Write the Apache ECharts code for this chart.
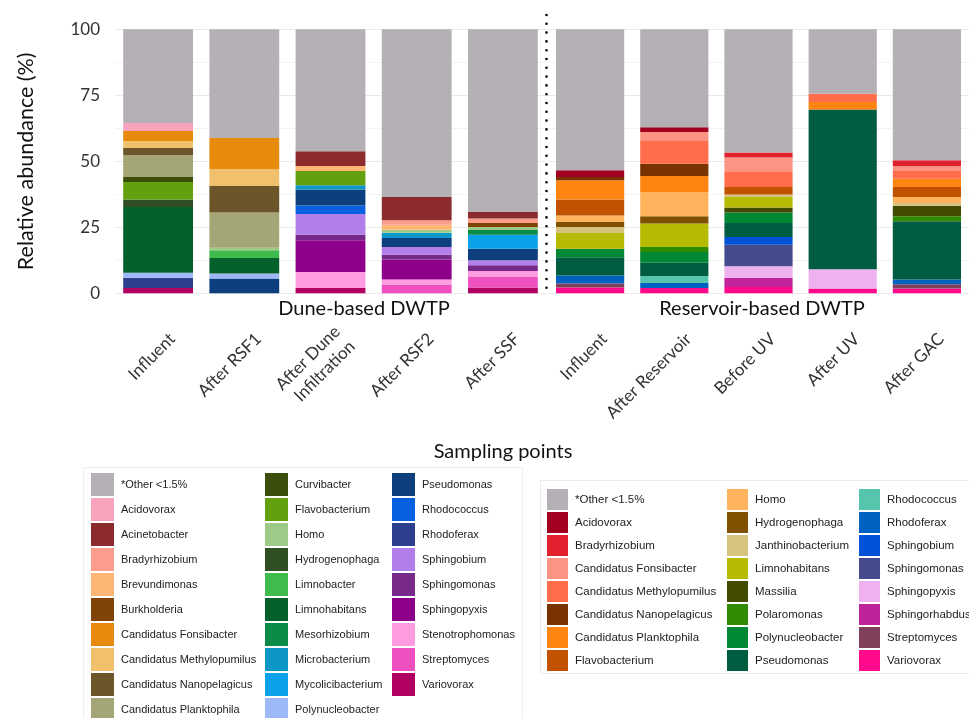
<!DOCTYPE html>
<html>
<head>
<meta charset="utf-8">
<script src="https://cdn.jsdelivr.net/npm/echarts@6/dist/echarts.min.js"></script>
<style>
  html, body { margin: 0; padding: 0; background: #ffffff; }
  #chart { width: 969px; height: 718px; }
</style>
</head>
<body>
<div id="chart"></div>
<script>
// Sampling points of the two treatment trains
const duneSites = ['Influent', 'After RSF1', 'After Dune\nInfiltration', 'After RSF2', 'After SSF'];
const reservoirSites = ['Influent', 'After Reservoir', 'Before UV', 'After UV', 'After GAC'];

// Genera in legend order (first entry sits on top of each stack)
const duneGenera = [
  '*Other <1.5%', 'Acidovorax', 'Acinetobacter', 'Bradyrhizobium', 'Brevundimonas', 'Burkholderia',
  'Candidatus Fonsibacter', 'Candidatus Methylopumilus', 'Candidatus Nanopelagicus', 'Candidatus Planktophila',
  'Curvibacter', 'Flavobacterium', 'Homo', 'Hydrogenophaga', 'Limnobacter', 'Limnohabitans',
  'Mesorhizobium', 'Microbacterium', 'Mycolicibacterium', 'Polynucleobacter',
  'Pseudomonas', 'Rhodococcus', 'Rhodoferax', 'Sphingobium', 'Sphingomonas', 'Sphingopyxis',
  'Stenotrophomonas', 'Streptomyces', 'Variovorax'
];
const reservoirGenera = [
  '*Other <1.5%', 'Acidovorax', 'Bradyrhizobium', 'Candidatus Fonsibacter', 'Candidatus Methylopumilus',
  'Candidatus Nanopelagicus', 'Candidatus Planktophila', 'Flavobacterium',
  'Homo', 'Hydrogenophaga', 'Janthinobacterium', 'Limnohabitans', 'Massilia', 'Polaromonas',
  'Polynucleobacter', 'Pseudomonas',
  'Rhodococcus', 'Rhodoferax', 'Sphingobium', 'Sphingomonas', 'Sphingopyxis', 'Sphingorhabdus',
  'Streptomyces', 'Variovorax'
];

// Relative abundance (%) per sampling point, one value per genus in the order above
const duneInfluent     = [35.5, 3.0, 0, 0, 0, 0, 3.8, 2.7, 2.7, 8.2, 1.9, 6.7, 0, 2.8, 0, 24.9, 0, 0, 0, 1.9, 0, 0, 3.9, 0, 0, 0, 0, 0, 2.0];
const duneAfterRSF1    = [41.2, 0, 0, 0, 0, 0, 11.8, 6.4, 10.0, 13.3, 0, 0, 1.0, 0, 2.9, 5.9, 0, 0, 0, 1.9, 5.6, 0, 0, 0, 0, 0, 0, 0, 0];
const duneAfterDune    = [46.2, 0, 5.6, 0, 1.9, 0, 0, 0, 0, 0, 0, 5.4, 0, 0, 0, 0, 0, 1.6, 0, 0, 6.0, 3.3, 0, 7.8, 2.1, 12.0, 6.1, 0, 2.0];
const duneAfterRSF2    = [63.5, 0, 8.8, 1.7, 1.9, 0, 0, 0, 0, 0, 0, 0, 1.2, 0, 0, 0, 0, 2.0, 0, 0, 3.4, 0, 0, 2.9, 1.8, 7.6, 1.9, 3.3, 0];
const duneAfterSSF     = [69.2, 0, 2.5, 1.7, 0, 1.5, 0, 0, 0, 0, 0, 0, 1.1, 0, 0, 0, 1.8, 0, 5.3, 0, 4.4, 0, 0, 1.9, 2.2, 0, 2.2, 4.0, 2.2];

const resInfluent       = [53.4, 2.5, 0, 0, 0, 1.3, 7.3, 6.0, 2.5, 1.9, 2.3, 5.9, 0, 0, 3.2, 7.0, 0, 3.0, 0, 0, 0, 0, 1.5, 2.2];
const resAfterReservoir = [37.1, 1.8, 0, 3.1, 8.9, 4.7, 6.0, 0, 9.2, 2.8, 0, 8.9, 0, 1.9, 4.0, 5.0, 2.7, 1.9, 0, 0, 0, 0, 0, 2.0];
const resBeforeUV       = [46.7, 0, 1.9, 5.2, 5.9, 0, 0, 2.9, 0, 0, 0.9, 4.0, 1.9, 0, 4.0, 5.3, 0, 0, 2.9, 8.2, 4.3, 3.5, 0, 2.4];
const resAfterUV        = [24.4, 0, 0, 0, 3.1, 0, 2.9, 0, 0, 0, 0, 0, 0, 0, 0, 60.5, 0, 0, 0, 0, 7.3, 0, 0, 1.8];
const resAfterGAC       = [49.6, 0, 2.3, 1.8, 2.9, 0, 3.1, 3.8, 2.3, 0, 1.0, 0, 4.0, 1.9, 0, 22.1, 0, 1.8, 0, 0, 0, 0, 1.6, 1.8];

// Y-axis ticks
const yTicks = [0, 25, 50, 75, 100];

// Palettes, aligned with the genus lists
const duneColors = [
  '#b5b0b5', '#f7a3bb', '#8c2b2d', '#fb9c8c', '#fdb673', '#7f4306',
  '#e88a0b', '#f1c06c', '#6b5529', '#a5a676',
  '#3b4e0c', '#62a00f', '#9fc986', '#2f4e23', '#3fbb4c', '#04612b',
  '#0b8b48', '#0e97c6', '#0ba2ea', '#9db8f6',
  '#0d3f7e', '#0760e0', '#2f3f90', '#b27ee9', '#782a8b', '#8d008a',
  '#ff9be0', '#ee50c0', '#b00062'
];
const reservoirColors = [
  '#b5b0b5', '#a10021', '#e2212f', '#fc9484', '#ff6d4a',
  '#7a3200', '#ff8512', '#c05200',
  '#ffb35c', '#7f5100', '#d6c47e', '#b6ba00', '#434b00', '#2f8b02',
  '#008834', '#005d41',
  '#57c5ad', '#0062c0', '#0052d6', '#454b8d', '#f0b1f1', '#c0229b',
  '#814059', '#ff0a8d'
];

const duneSamples = [duneInfluent, duneAfterRSF1, duneAfterDune, duneAfterRSF2, duneAfterSSF];
const resSamples = [resInfluent, resAfterReservoir, resBeforeUV, resAfterUV, resAfterGAC];

// Reservoir series carry a tag so both panels can list the same genus with its own colour
const RES_TAG = ' (R)';

function stackSeries(genera, colors, samples, axisIndex, stackId, tag) {
  const list = [];
  for (let g = genera.length - 1; g >= 0; g--) {
    list.push({
      type: 'bar',
      name: genera[g] + tag,
      stack: stackId,
      xAxisIndex: axisIndex,
      yAxisIndex: axisIndex,
      barCategoryGap: '19%',
      itemStyle: { color: colors[g] },
      emphasis: { disabled: true },
      data: samples.map(s => s[g])
    });
  }
  return list;
}

const tickFont = 'Lato, "Open Sans", sans-serif';
const legendFont = '"Liberation Sans", Arial, sans-serif';

function legendColumn(names, left, top, box, gap, fontSize) {
  return {
    orient: 'vertical',
    left: left,
    top: top,
    height: 300,
    padding: 0,
    itemWidth: box,
    itemHeight: box,
    itemGap: gap,
    icon: 'rect',
    selectedMode: false,
    data: names,
    formatter: n => n.replace(RES_TAG, ''),
    textStyle: { fontFamily: legendFont, fontSize: fontSize, color: '#222', padding: [0, 0, 0, 2] }
  };
}

const resNames = reservoirGenera.map(n => n + RES_TAG);

const xLabel = {
  rotate: 45,
  interval: 0,
  margin: 57,
  padding: [0, -20, 0, 0],
  fontFamily: tickFont,
  fontSize: 17,
  lineHeight: 21,
  color: '#333'
};

const gridLine = { lineStyle: { color: '#e9e9e9', width: 1 } };
const minorLine = { show: true, lineStyle: { color: '#f3f3f3', width: 1 } };
const captionFont = '20px Lato, "Open Sans", sans-serif';

const option = {
  backgroundColor: '#ffffff',
  animation: false,
  grid: [
    { left: 115, top: 29.3, width: 431, height: 264 },
    { left: 548, top: 29.3, width: 430.5, height: 264 }
  ],
  xAxis: [
    { type: 'category', gridIndex: 0, data: duneSites,
      axisLine: { show: false }, axisTick: { show: false }, axisLabel: xLabel },
    { type: 'category', gridIndex: 1, data: reservoirSites,
      axisLine: { show: false }, axisTick: { show: false }, axisLabel: xLabel }
  ],
  yAxis: [
    { type: 'value', gridIndex: 0, min: yTicks[0], max: yTicks[yTicks.length - 1], interval: yTicks[1] - yTicks[0],
      name: 'Relative abundance (%)', nameLocation: 'middle', nameGap: 78, nameRotate: 90,
      nameTextStyle: { fontFamily: tickFont, fontSize: 21.5, color: '#111' },
      axisLine: { show: false }, axisTick: { show: false },
      axisLabel: { margin: 15, fontFamily: tickFont, fontSize: 17, color: '#333' },
      splitLine: gridLine, minorTick: { show: false, splitNumber: 2 }, minorSplitLine: minorLine },
    { type: 'value', gridIndex: 1, min: yTicks[0], max: yTicks[yTicks.length - 1], interval: yTicks[1] - yTicks[0],
      axisLine: { show: false }, axisTick: { show: false }, axisLabel: { show: false },
      splitLine: gridLine, minorTick: { show: false, splitNumber: 2 }, minorSplitLine: minorLine }
  ],
  legend: [
    legendColumn(duneGenera.slice(0, 10), 91, 473, 23, 2, 11),
    legendColumn(duneGenera.slice(10, 20), 265, 473, 23, 2, 11),
    legendColumn(duneGenera.slice(20), 392, 473, 23, 2, 11),
    legendColumn(resNames.slice(0, 8), 547, 489, 21, 2, 11.5),
    legendColumn(resNames.slice(8, 16), 727, 489, 21, 2, 11.5),
    legendColumn(resNames.slice(16), 859, 489, 21, 2, 11.5)
  ],
  graphic: [
    // legend frames
    { type: 'rect', z: -1, silent: true, shape: { x: 83.5, y: 467.5, width: 439, height: 260 },
      style: { fill: '#ffffff', stroke: '#eeeeee', lineWidth: 1 } },
    { type: 'rect', z: -1, silent: true, shape: { x: 540.5, y: 480.5, width: 440, height: 193 },
      style: { fill: '#ffffff', stroke: '#eaeaea', lineWidth: 1 } },
    // dotted divider between the two treatment trains
    { type: 'line', silent: true, z: 10, shape: { x1: 546.5, y1: 15, x2: 546.5, y2: 293 },
      style: { stroke: '#000', lineWidth: 2.6, lineCap: 'round', lineDash: [0, 8.8] } },
    // panel captions and shared axis title
    { type: 'text', silent: true, x: 364, y: 309,
      style: { text: 'Dune-based DWTP', align: 'center', verticalAlign: 'middle', font: captionFont, fill: '#111' } },
    { type: 'text', silent: true, x: 762, y: 309,
      style: { text: 'Reservoir-based DWTP', align: 'center', verticalAlign: 'middle', font: captionFont, fill: '#111' } },
    { type: 'text', silent: true, x: 503, y: 452,
      style: { text: 'Sampling points', align: 'center', verticalAlign: 'middle', font: captionFont, fill: '#111' } }
  ],
  series: [
    ...stackSeries(duneGenera, duneColors, duneSamples, 0, 'dune', ''),
    ...stackSeries(reservoirGenera, reservoirColors, resSamples, 1, 'reservoir', RES_TAG)
  ]
};

const chart = echarts.init(document.getElementById('chart'), null, { renderer: 'canvas' });
chart.setOption(option);
</script>
</body>
</html>
